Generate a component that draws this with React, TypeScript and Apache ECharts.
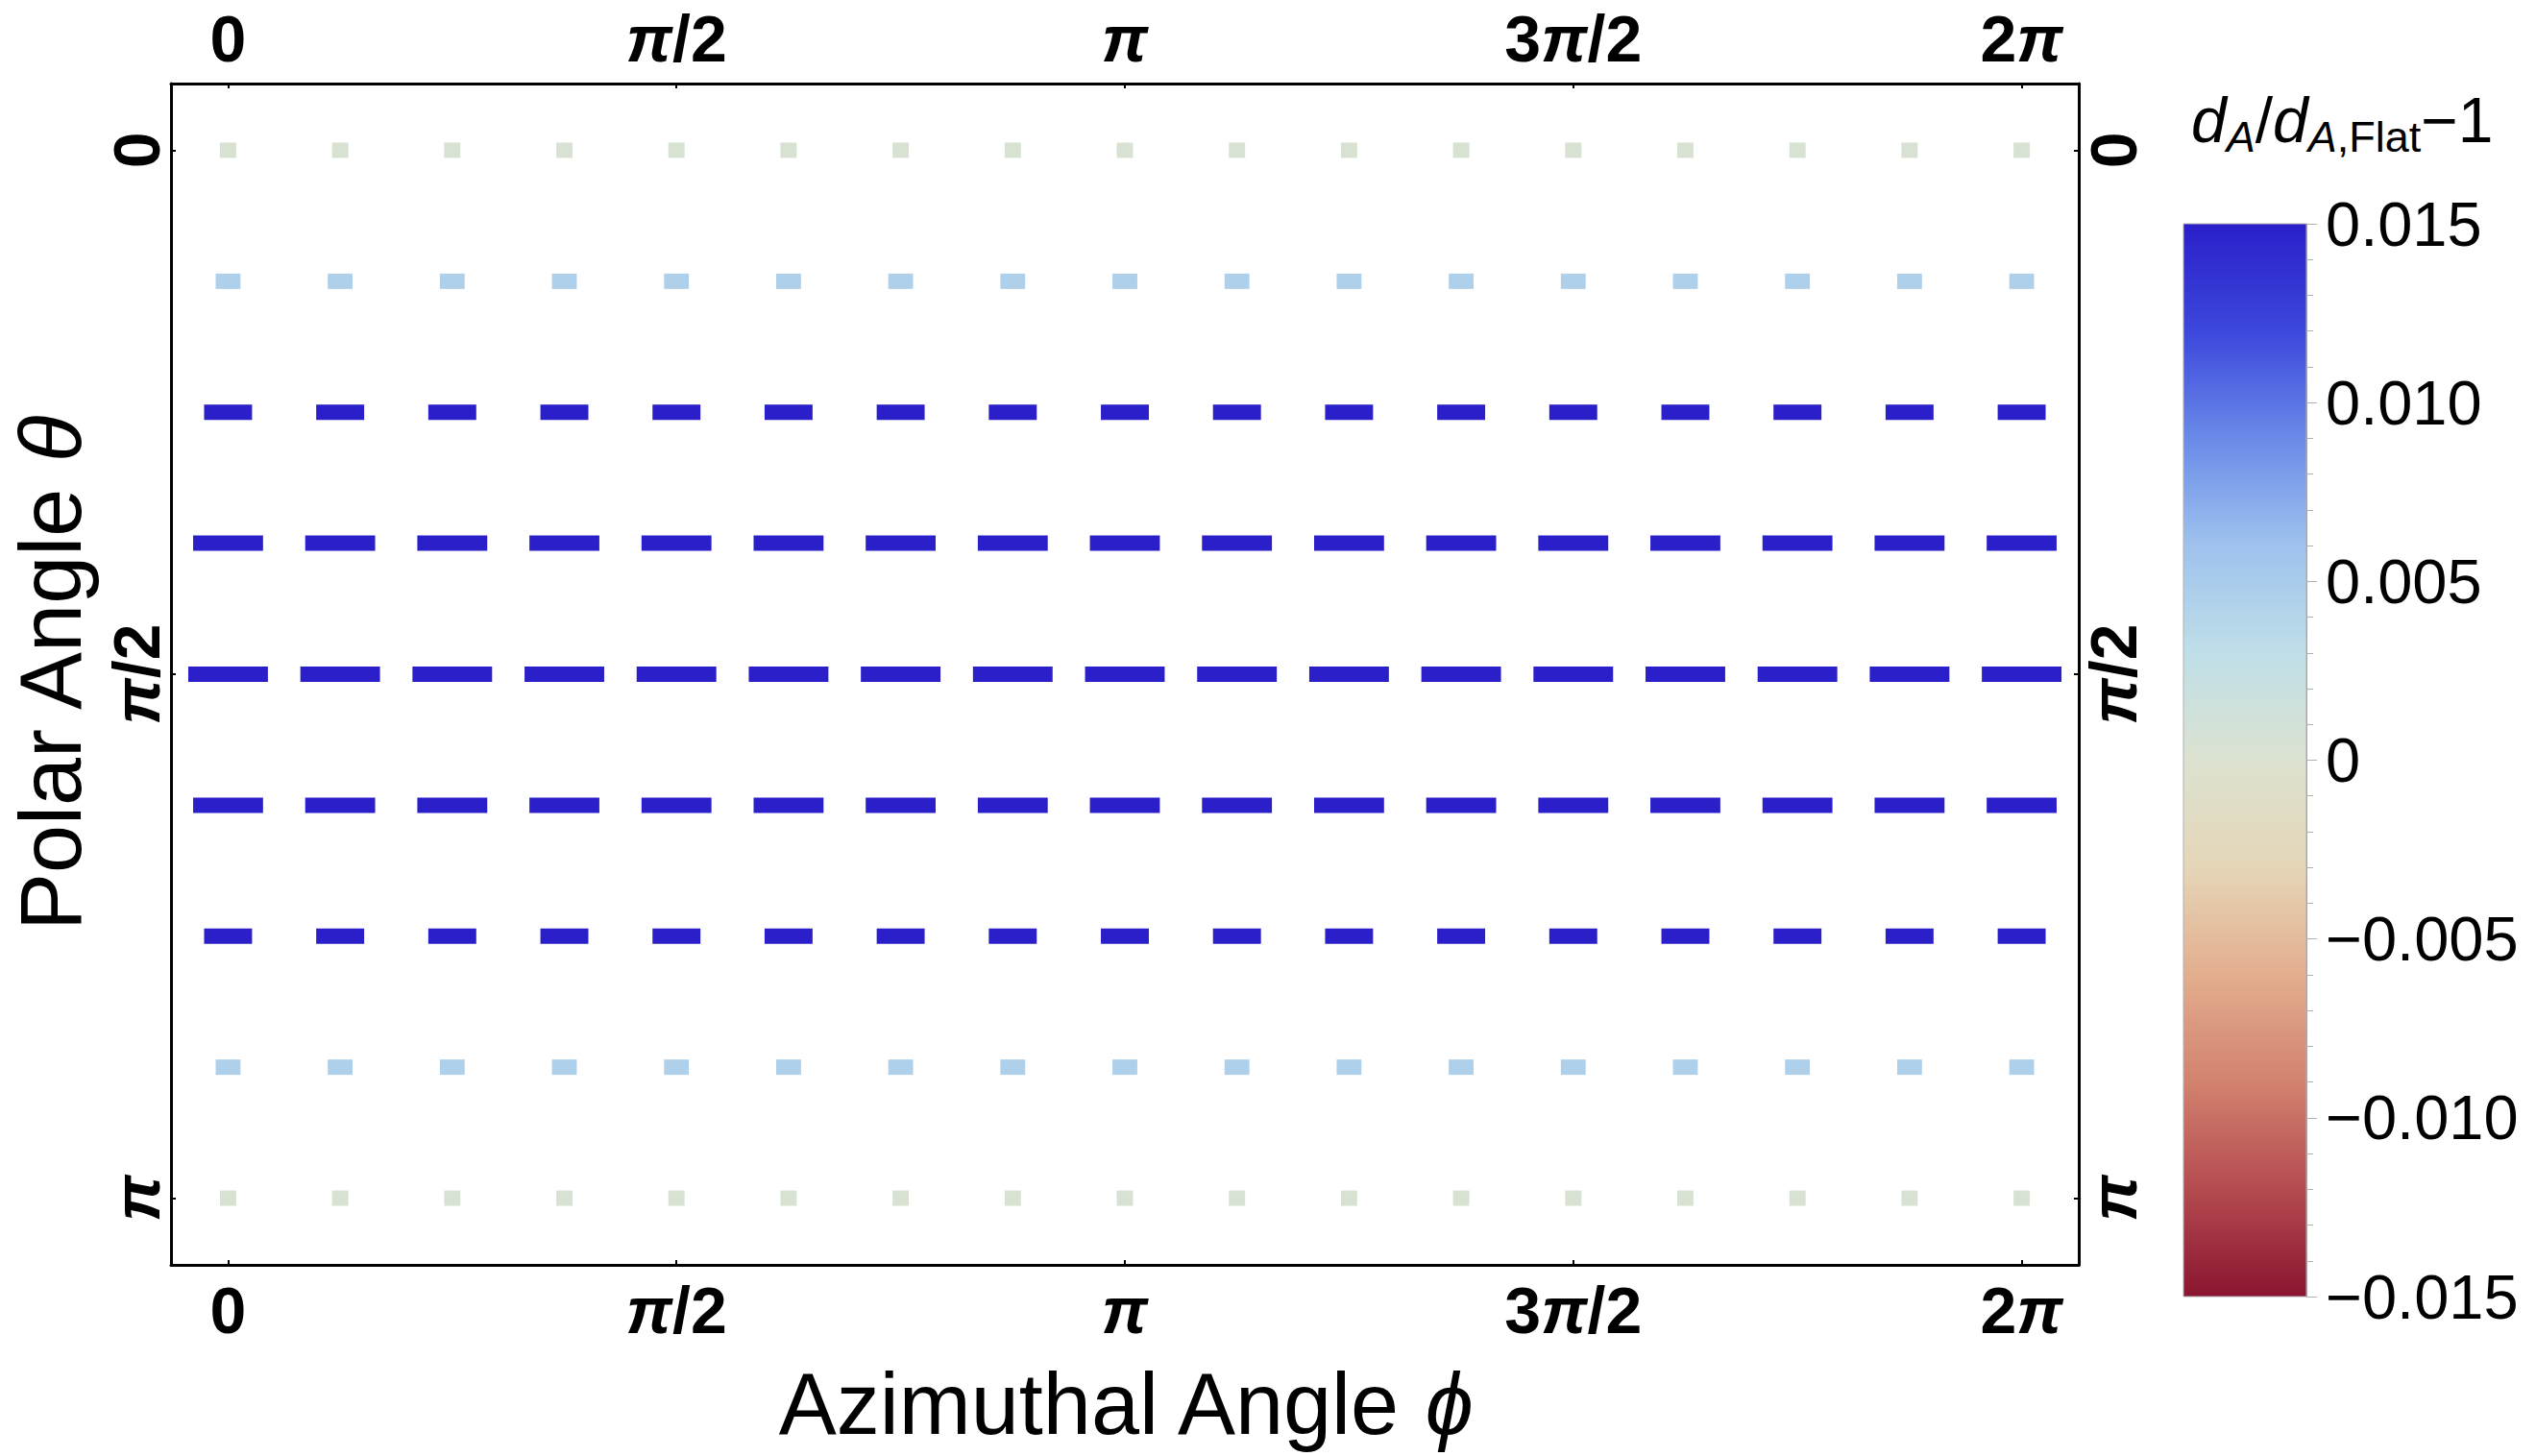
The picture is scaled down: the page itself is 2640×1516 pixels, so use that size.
import React, { useEffect, useRef } from "react";
import * as echarts from "echarts";

const PI = Math.PI;

// Grid of azimuthal (phi) and polar (theta) sample points
const phiGrid = [
  0, PI / 8, PI / 4, (3 * PI) / 8, PI / 2, (5 * PI) / 8, (3 * PI) / 4, (7 * PI) / 8, PI,
  (9 * PI) / 8, (5 * PI) / 4, (11 * PI) / 8, (3 * PI) / 2, (13 * PI) / 8, (7 * PI) / 4, (15 * PI) / 8, 2 * PI,
];
const thetaGrid = [0, PI / 8, PI / 4, (3 * PI) / 8, PI / 2, (5 * PI) / 8, (3 * PI) / 4, (7 * PI) / 8, PI];

// d_A/d_A,Flat - 1 per polar row (colour), clipped at the colour-bar maximum
const rowValues = [0.0004, 0.0046, 0.015, 0.015, 0.015, 0.015, 0.015, 0.0046, 0.0004];
// dash length per polar row, in units of phi (radians)
const rowDashLength = [0.057, 0.087, 0.168, 0.245, 0.279, 0.245, 0.168, 0.087, 0.057];

const xTickValues = [0, PI / 2, PI, (3 * PI) / 2, 2 * PI];
const xTickLabels = ["0", "{p|π}/2", "{p|π}", "3{p|π}/2", "2{p|π}"];
const yTickValues = [0, PI / 2, PI];
const yTickLabels = ["0", "{p|π}/2", "{p|π}"];

const barMin = -0.015;
const barMax = 0.015;
const barInterval = 0.005;

// colour scale (low -> high)
const colorScale = [
  "#8a1530", "#b44b50", "#d2826f", "#e3ae8e", "#e5d6b8", "#dce2d0",
  "#bfdfe8", "#9fc2ee", "#6a8ae8", "#3c47dc", "#2a1fc9",
];

const FONT = "'Liberation Sans', Arial, Helvetica, sans-serif";

const dashData: number[][] = [];
thetaGrid.forEach((th, i) => {
  phiGrid.forEach((ph) => {
    dashData.push([ph, th, rowValues[i], rowDashLength[i]]);
  });
});

function pickLabel(values: number[], labels: string[], v: number) {
  const idx = values.findIndex((t) => Math.abs(t - v) < 1e-6);
  return idx >= 0 ? labels[idx] : "";
}

function barLabel(v: number) {
  if (Math.abs(v) < 1e-9) return "0";
  return (v < 0 ? "\u2212" : "") + Math.abs(v).toFixed(3);
}

export default function App() {
  const ref = useRef<HTMLDivElement>(null);

  useEffect(() => {
    if (!ref.current) return;
    const chart = echarts.init(ref.current, undefined, { renderer: "svg" });

    const frameLine = { show: true, onZero: false, lineStyle: { color: "#000", width: 3 } };
    const tickLabelStyle = {
      fontSize: 68,
      fontWeight: "bold" as const,
      fontFamily: FONT,
      color: "#000",
      rich: {
        p: { fontSize: 68, fontWeight: "bold", fontStyle: "italic", fontFamily: FONT, color: "#000" },
      },
    };
    const titleStyle = {
      fontSize: 90,
      fontFamily: FONT,
      color: "#000",
      rich: { i: { fontSize: 90, fontFamily: FONT, fontStyle: "italic", color: "#000" } },
    };

    const xCommon = (pos: "bottom" | "top", withName: boolean) => ({
      type: "value",
      gridIndex: 0,
      position: pos,
      min: -0.2,
      max: 2 * PI + 0.2,
      axisLine: frameLine,
      splitLine: { show: false },
      axisTick: {
        show: true,
        inside: true,
        length: 5,
        customValues: xTickValues,
        lineStyle: { color: "#000", width: 2 },
      },
      axisLabel: {
        show: true,
        margin: 13,
        customValues: xTickValues,
        formatter: (v: number) => pickLabel(xTickValues, xTickLabels, v),
        ...tickLabelStyle,
      },
      ...(withName
        ? { name: "Azimuthal Angle {i|\u03D5}", nameLocation: "middle", nameGap: 100, nameTextStyle: titleStyle }
        : {}),
    });

    const yCommon = (pos: "left" | "right", withName: boolean) => ({
      type: "value",
      gridIndex: 0,
      position: pos,
      inverse: true,
      min: -0.2,
      max: PI + 0.2,
      axisLine: frameLine,
      splitLine: { show: false },
      axisTick: {
        show: true,
        inside: true,
        length: 5,
        customValues: yTickValues,
        lineStyle: { color: "#000", width: 2 },
      },
      axisLabel: {
        show: true,
        rotate: 90,
        margin: 2,
        customValues: yTickValues,
        formatter: (v: number) => pickLabel(yTickValues, yTickLabels, v),
        ...tickLabelStyle,
      },
      ...(withName
        ? { name: "Polar Angle {i|θ}", nameLocation: "middle", nameGap: 80, nameTextStyle: titleStyle }
        : {}),
    });

    const gradientStops = colorScale
      .slice()
      .reverse()
      .map((c, k, arr) => ({ offset: k / (arr.length - 1), color: c }));

    const option: any = {
      animation: false,
      backgroundColor: "#fff",
      grid: [
        { left: 172, top: 87, width: 1992, height: 1230, containLabel: false },
        { left: 2273, top: 233, width: 128, height: 1117, containLabel: false },
      ],
      xAxis: [
        xCommon("bottom", true),
        xCommon("top", false),
        {
          type: "value",
          gridIndex: 1,
          min: 0,
          max: 1,
          show: false,
        },
      ],
      yAxis: [
        yCommon("left", true),
        yCommon("right", false),
        {
          type: "value",
          gridIndex: 1,
          position: "right",
          min: barMin,
          max: barMax,
          interval: barInterval,
          splitLine: { show: false },
          axisLine: { show: true, onZero: false, lineStyle: { color: "#999", width: 1 } },
          axisTick: { show: true, length: 11, lineStyle: { color: "#b0b0b0", width: 1 } },
          minorTick: { show: true, splitNumber: 5, length: 7, lineStyle: { color: "#b0b0b0", width: 1 } },
          minorSplitLine: { show: false },
          axisLabel: {
            show: true,
            margin: 20,
            fontSize: 65,
            fontFamily: FONT,
            color: "#000",
            formatter: (v: number) => barLabel(v),
          },
        },
      ],
      visualMap: [
        {
          type: "continuous",
          show: false,
          min: barMin,
          max: barMax,
          dimension: 2,
          seriesIndex: 0,
          inRange: { color: colorScale },
        },
      ],
      series: [
        {
          type: "custom",
          xAxisIndex: 0,
          yAxisIndex: 0,
          encode: { x: 0, y: 1 },
          data: dashData,
          renderItem: (params: any, api: any) => {
            const phi = api.value(0);
            const th = api.value(1);
            const len = api.value(3);
            const a = api.coord([phi - len / 2, th]);
            const b = api.coord([phi + len / 2, th]);
            const h = 16;
            return {
              type: "rect",
              shape: { x: a[0], y: a[1] - h / 2, width: b[0] - a[0], height: h },
              style: { fill: api.visual("color") },
            };
          },
        },
        {
          type: "custom",
          xAxisIndex: 2,
          yAxisIndex: 2,
          encode: { x: 0, y: 1 },
          data: [[0, 0]],
          renderItem: (params: any, api: any) => {
            const tl = api.coord([0, barMax]);
            const br = api.coord([1, barMin]);
            return {
              type: "rect",
              shape: { x: tl[0], y: tl[1], width: br[0] - tl[0], height: br[1] - tl[1] },
              style: {
                fill: new echarts.graphic.LinearGradient(0, 0, 0, 1, gradientStops),
                stroke: "#b0b0b0",
                lineWidth: 1,
              },
            };
          },
        },
      ],
      graphic: [
        {
          type: "text",
          x: 2281,
          y: 92,
          style: {
            text: "{d|d}{s|A}{m|/}{d|d}{s|A}{f|,Flat}{m|\u22121}",
            align: "left",
            verticalAlign: "top",
            rich: {
              d: { fontSize: 66, fontFamily: FONT, fontStyle: "italic", fill: "#000", color: "#000", verticalAlign: "bottom", padding: [0, 0, 7, 0] },
              m: { fontSize: 66, fontFamily: FONT, fill: "#000", color: "#000", verticalAlign: "bottom", padding: [0, 0, 7, 0] },
              s: { fontSize: 45, fontFamily: FONT, fontStyle: "italic", fill: "#000", color: "#000", verticalAlign: "bottom" },
              f: { fontSize: 45, fontFamily: FONT, fill: "#000", color: "#000", verticalAlign: "bottom" },
            },
          },
        },
      ],
    };

    chart.setOption(option);
    return () => chart.dispose();
  }, []);

  return (
    <div
      ref={ref}
      style={{ position: "absolute", left: 0, top: 0, width: 2640, height: 1516, background: "#fff" }}
    />
  );
}
